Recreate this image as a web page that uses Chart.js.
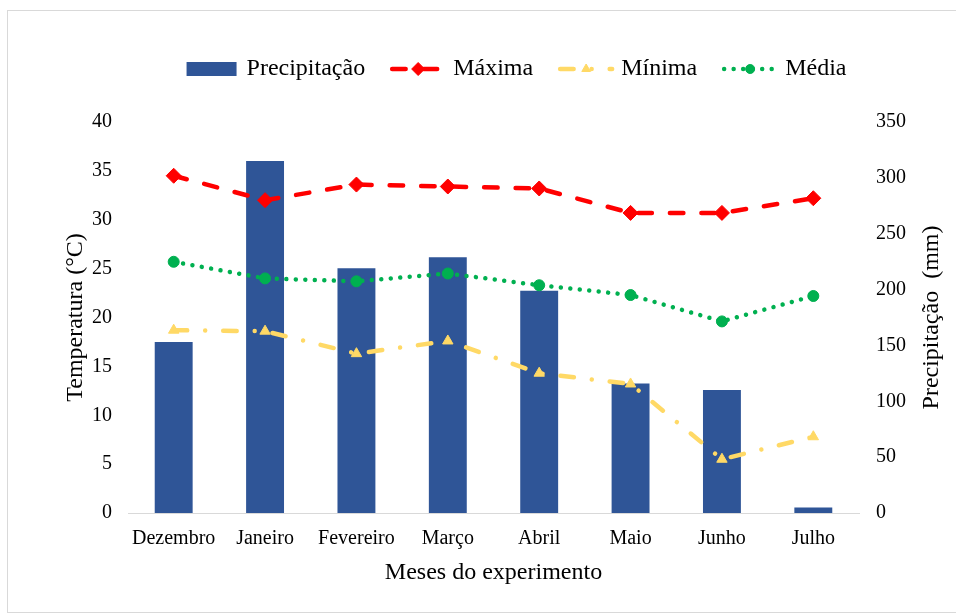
<!DOCTYPE html>
<html>
<head>
<meta charset="utf-8">
<title>Clima durante o experimento</title>
<script src="https://cdn.jsdelivr.net/npm/chart.js@4.4.1/dist/chart.umd.min.js"></script>
<style>
  html, body { margin: 0; padding: 0; background: #fff; }
  #wrap { width: 956px; height: 615px; position: relative; }
</style>
</head>
<body>
<div id="wrap"><canvas id="grafico" width="956" height="615"></canvas></div>
<script>
// Monthly data
const meses = ['Dezembro', 'Janeiro', 'Fevereiro', 'Março', 'Abril', 'Maio', 'Junho', 'Julho'];
const precipitacao = [153, 315, 219, 229, 199, 116, 110, 5];      // mm
const maxima = [34.5, 32.0, 33.6, 33.4, 33.2, 30.7, 30.7, 32.2];  // °C
const minima = [18.7, 18.6, 16.3, 17.6, 14.3, 13.2, 5.5, 7.8];    // °C
const media  = [25.7, 24.0, 23.7, 24.5, 23.3, 22.3, 19.6, 22.2];  // °C

// Axis tick values
const ticksTemperatura = [0, 5, 10, 15, 20, 25, 30, 35, 40];
const ticksPrecipitacao = [0, 50, 100, 150, 200, 250, 300, 350];

const FONTE = "'Liberation Serif', 'Times New Roman', serif";
Chart.defaults.font.family = FONTE;
Chart.defaults.color = '#000';

// White page with a light frame
const moldura = {
  id: 'moldura',
  beforeDraw(chart) {
    const ctx = chart.ctx;
    ctx.save();
    ctx.fillStyle = '#fff';
    ctx.fillRect(0, 0, chart.width, chart.height);
    ctx.strokeStyle = '#d9d9d9';
    ctx.lineWidth = 1;
    ctx.strokeRect(7.5, 10.5, chart.width + 20, 602);
    ctx.restore();
  }
};

// Legend row above the plot: bar swatch, then line swatches with their markers
const legenda = {
  id: 'legenda',
  afterDraw(chart) {
    const ctx = chart.ctx;
    const ds = chart.data.datasets;
    const sw = 56, gapTexto = 7, gapItem = 25, cy = 69, cx = 515;
    ctx.save();
    ctx.font = '24px ' + FONTE;
    const larguras = ds.map(d => sw + gapTexto + ctx.measureText(d.label).width);
    const total = larguras.reduce((a, b) => a + b, 0) + gapItem * (ds.length - 1);
    let x = cx - total / 2;
    ds.forEach((d, i) => {
      if (d.type === 'line') {
        ctx.save();
        ctx.strokeStyle = d.borderColor;
        ctx.lineWidth = d.borderWidth;
        ctx.lineCap = 'round';
        ctx.setLineDash(d.borderDash || []);
        ctx.beginPath();
        ctx.moveTo(x + 2, cy);
        ctx.lineTo(x + sw - 2, cy);
        ctx.stroke();
        ctx.restore();
        ctx.fillStyle = d.pointBackgroundColor;
        ctx.strokeStyle = d.pointBorderColor;
        ctx.lineWidth = 1;
        Chart.helpers.drawPoint(ctx, {
          pointStyle: d.pointStyle, radius: d.pointRadius - 1, rotation: 0, borderWidth: 1
        }, x + sw / 2, cy);
      } else {
        ctx.fillStyle = d.backgroundColor;
        ctx.fillRect(x + 3, cy - 7, sw - 6, 14);
      }
      ctx.fillStyle = '#000';
      ctx.textAlign = 'left';
      ctx.textBaseline = 'middle';
      ctx.fillText(d.label, x + sw + gapTexto, cy);
      x += larguras[i] + gapItem;
    });
    ctx.restore();
  }
};

// Right-hand axis title, read from bottom to top
const tituloDireito = {
  id: 'tituloDireito',
  afterDraw(chart) {
    const ctx = chart.ctx;
    const a = chart.chartArea;
    ctx.save();
    ctx.translate(932, (a.top + a.bottom) / 2);
    ctx.rotate(-Math.PI / 2);
    ctx.font = '24px ' + FONTE;
    ctx.fillStyle = '#000';
    ctx.textAlign = 'center';
    ctx.textBaseline = 'middle';
    ctx.fillText('Precipitação  (mm)', 0, 0);
    ctx.restore();
  }
};

new Chart(document.getElementById('grafico'), {
  type: 'bar',
  data: {
    labels: meses,
    datasets: [
      {
        type: 'bar',
        label: 'Precipitação',
        data: precipitacao,
        yAxisID: 'y2',
        backgroundColor: '#2F5597',
        borderWidth: 0,
        barPercentage: 0.415,
        categoryPercentage: 1,
        order: 2
      },
      {
        type: 'line',
        label: 'Máxima',
        data: maxima,
        yAxisID: 'y',
        borderColor: '#FF0000',
        borderWidth: 4.5,
        borderDash: [13.5, 18],
        borderCapStyle: 'round',
        tension: 0,
        pointStyle: 'rectRot',
        pointRadius: 7.5,
        pointBackgroundColor: '#FF0000',
        pointBorderColor: '#FF0000',
        pointBorderWidth: 1,
        order: 1
      },
      {
        type: 'line',
        label: 'Mínima',
        data: minima,
        yAxisID: 'y',
        borderColor: '#FFD966',
        borderWidth: 4.5,
        borderDash: [13.5, 18, 0.01, 18],
        borderCapStyle: 'round',
        tension: 0,
        pointStyle: 'triangle',
        pointRadius: 6,
        pointBackgroundColor: '#FFD966',
        pointBorderColor: '#FFD966',
        pointBorderWidth: 1,
        order: 1
      },
      {
        type: 'line',
        label: 'Média',
        data: media,
        yAxisID: 'y',
        borderColor: '#00B050',
        borderWidth: 4.5,
        borderDash: [0.01, 9.5],
        borderCapStyle: 'round',
        tension: 0,
        pointStyle: 'circle',
        pointRadius: 5.5,
        pointBackgroundColor: '#00B050',
        pointBorderColor: '#00B050',
        pointBorderWidth: 1,
        order: 1
      }
    ]
  },
  options: {
    responsive: false,
    animation: false,
    layout: { padding: { top: 122, left: 0, right: 0, bottom: 0 } },
    plugins: {
      legend: { display: false },
      tooltip: { enabled: false }
    },
    scales: {
      x: {
        offset: true,
        grid: { display: false, drawTicks: false },
        border: { display: true, color: '#d9d9d9', width: 1 },
        ticks: { font: { size: 20 }, padding: 14, color: '#000', maxRotation: 0 },
        title: {
          display: true, text: 'Meses do experimento',
          font: { size: 24 }, color: '#000', padding: { top: 0, bottom: 28 }
        },
        afterFit(s) { s.height = 102; }
      },
      y: {
        position: 'left',
        min: 0, max: 40,
        grid: { display: false, drawTicks: false },
        border: { display: false },
        ticks: { font: { size: 20 }, padding: 16, color: '#000' },
        afterBuildTicks(s) { s.ticks = ticksTemperatura.map(v => ({ value: v })); },
        title: {
          display: true, text: 'Temperatura (°C)',
          font: { size: 24 }, color: '#000', padding: { top: 61, bottom: 0 }
        },
        afterFit(s) { s.width = 128; }
      },
      y2: {
        position: 'right',
        min: 0, max: 350,
        grid: { display: false, drawTicks: false },
        border: { display: false },
        ticks: { font: { size: 20 }, padding: 17, color: '#000' },
        afterBuildTicks(s) { s.ticks = ticksPrecipitacao.map(v => ({ value: v })); },
        afterFit(s) { s.width = 97; }
      }
    }
  },
  plugins: [moldura, legenda, tituloDireito]
});
</script>
</body>
</html>
